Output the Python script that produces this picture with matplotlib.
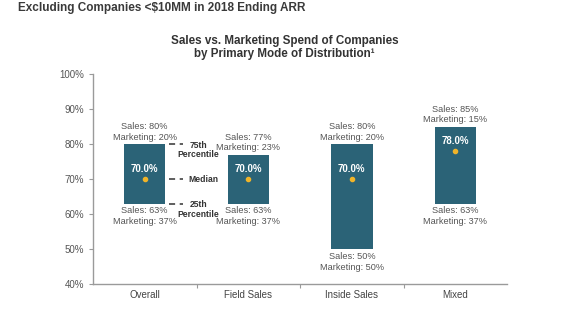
import matplotlib
matplotlib.use("Agg")
import matplotlib.pyplot as plt

plt.rcParams['font.family'] = ['Liberation Sans', 'DejaVu Sans']

categories = ["Overall", "Field Sales", "Inside Sales", "Mixed"]
p75 = [80, 77, 80, 85]
p25 = [63, 63, 50, 63]
median = [70.0, 70.0, 70.0, 78.0]
yticks = [40, 50, 60, 70, 80, 90, 100]

bar_color = "#2B6377"
dot_color = "#F0B429"
txt_color = "#555555"

fig = plt.figure(figsize=(5.81, 3.35), dpi=100)
ax = fig.add_axes([0.160, 0.152, 0.713, 0.627])

x = list(range(len(categories)))
heights = [t - b for t, b in zip(p75, p25)]
ax.bar(x, heights, bottom=p25, width=0.4, color=bar_color, zorder=2)
ax.scatter(x, median, s=9, color=dot_color, zorder=3)

for i in x:
    ax.text(i, median[i] + 3.0, f"{median[i]:.1f}%", ha="center", va="center",
            color="white", fontsize=7, fontweight="bold", zorder=4)
    ax.text(i, p75[i] + 0.6, f"Sales: {p75[i]}%\nMarketing: {100 - p75[i]}%",
            ha="center", va="bottom", fontsize=6.6, color=txt_color, linespacing=1.25)
    ax.text(i, p25[i] - 0.8, f"Sales: {p25[i]}%\nMarketing: {100 - p25[i]}%",
            ha="center", va="top", fontsize=6.6, color=txt_color, linespacing=1.25)

# legend-like annotations between Overall and Field Sales
ann_y = [p75[0], median[0], p25[0]]
ann_txt = ["75th\nPercentile", "Median", "25th\nPercentile"]
for yv, t in zip(ann_y, ann_txt):
    ax.plot([0.235, 0.37], [yv, yv], color="#333333", lw=1.1,
            linestyle=(0, (4, 3)), zorder=2)
    if "\n" in t:
        ax.text(0.52, yv + 1.0, t, ha="center", va="top", fontsize=6.2,
                fontweight="bold", color="#333333", linespacing=1.1)
    else:
        ax.text(0.42, yv, t, ha="left", va="center", fontsize=6.2,
                fontweight="bold", color="#333333")

ax.set_xlim(-0.5, 3.5)
ax.set_ylim(40, 100)
ax.set_yticks(yticks)
ax.set_yticklabels([f"{v}%" for v in yticks], fontsize=7, color=txt_color)
ax.set_xticks([0.5, 1.5, 2.5])
ax.set_xticklabels([])
ax.tick_params(axis="x", length=3, color="#9a9a9a", direction="out")
ax.tick_params(axis="y", length=3, color="#9a9a9a", direction="out")
for i, c in enumerate(categories):
    ax.text(i, 38.3, c, ha="center", va="top", fontsize=7, color="#444444")

for s in ["top", "right"]:
    ax.spines[s].set_visible(False)
for s in ["left", "bottom"]:
    ax.spines[s].set_color("#9a9a9a")
    ax.spines[s].set_linewidth(1.0)

fig.text(18 / 581, 1 - 1.5 / 335, "Excluding Companies <$10MM in 2018 Ending ARR",
         ha="left", va="top", fontsize=8.5, fontweight="bold", color="#3a3a3a")
fig.text(0.49, 1 - 47.5 / 335, "Sales vs. Marketing Spend of Companies\nby Primary Mode of Distribution\u00b9",
         ha="center", va="center", fontsize=8.4, fontweight="bold", color="#333333",
         linespacing=1.2)

fig.savefig("out.png", dpi=100)
